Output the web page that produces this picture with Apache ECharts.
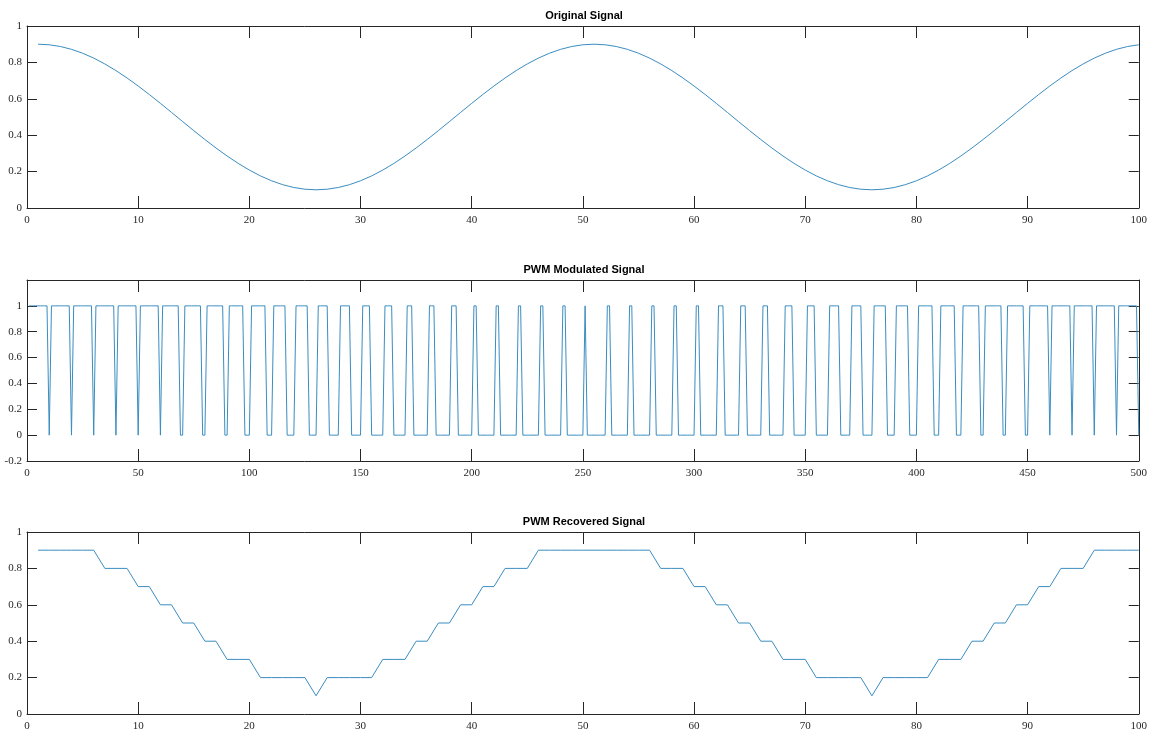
<!DOCTYPE html>
<html><head><meta charset="utf-8">
<script src="https://cdn.jsdelivr.net/npm/echarts@6/dist/echarts.min.js"></script>
<style>html,body{margin:0;padding:0;background:#fff}#chart{width:1150px;height:733px}</style>
</head><body><div id="chart"></div>
<script>
const titles = ['Original Signal', 'PWM Modulated Signal', 'PWM Recovered Signal'];

// Original signal, samples 1..100
const originalSignal = [
  0.9, 0.8968, 0.8874, 0.8719, 0.8505, 0.8236, 0.7916, 0.7550, 0.7143, 0.6703,
  0.6236, 0.5750, 0.5251, 0.4749, 0.4250, 0.3764, 0.3297, 0.2857, 0.2450, 0.2084,
  0.1764, 0.1495, 0.1281, 0.1126, 0.1032, 0.1, 0.1032, 0.1126, 0.1281, 0.1495,
  0.1764, 0.2084, 0.2450, 0.2857, 0.3297, 0.3764, 0.4250, 0.4749, 0.5251, 0.5750,
  0.6236, 0.6703, 0.7143, 0.7550, 0.7916, 0.8236, 0.8505, 0.8719, 0.8874, 0.8968,
  0.9, 0.8968, 0.8874, 0.8719, 0.8505, 0.8236, 0.7916, 0.7550, 0.7143, 0.6703,
  0.6236, 0.5750, 0.5251, 0.4749, 0.4250, 0.3764, 0.3297, 0.2857, 0.2450, 0.2084,
  0.1764, 0.1495, 0.1281, 0.1126, 0.1032, 0.1, 0.1032, 0.1126, 0.1281, 0.1495,
  0.1764, 0.2084, 0.2450, 0.2857, 0.3297, 0.3764, 0.4250, 0.4749, 0.5251, 0.5750,
  0.6236, 0.6703, 0.7143, 0.7550, 0.7916, 0.8236, 0.8505, 0.8719, 0.8874, 0.8968
];

// PWM modulated signal, 50 periods of 10 samples each (samples 1..500)
const pwmPeriods = [
  '1111111110', '1111111110', '1111111110', '1111111110', '1111111110',
  '1111111110', '1111111100', '1111111100', '1111111100', '1111111000',
  '1111111000', '1111110000', '1111110000', '1111100000', '1111100000',
  '1111000000', '1111000000', '1110000000', '1110000000', '1110000000',
  '1100000000', '1100000000', '1100000000', '1100000000', '1100000000',
  '1000000000', '1100000000', '1100000000', '1100000000', '1100000000',
  '1100000000', '1110000000', '1110000000', '1110000000', '1111000000',
  '1111000000', '1111100000', '1111100000', '1111110000', '1111110000',
  '1111111000', '1111111000', '1111111100', '1111111100', '1111111100',
  '1111111110', '1111111110', '1111111110', '1111111110', '1111111110'
];

// Recovered signal, samples 1..100
const recoveredSignal = [
  0.9, 0.9, 0.9, 0.9, 0.9, 0.9, 0.8, 0.8, 0.8, 0.7,
  0.7, 0.6, 0.6, 0.5, 0.5, 0.4, 0.4, 0.3, 0.3, 0.3,
  0.2, 0.2, 0.2, 0.2, 0.2, 0.1, 0.2, 0.2, 0.2, 0.2,
  0.2, 0.3, 0.3, 0.3, 0.4, 0.4, 0.5, 0.5, 0.6, 0.6,
  0.7, 0.7, 0.8, 0.8, 0.8, 0.9, 0.9, 0.9, 0.9, 0.9,
  0.9, 0.9, 0.9, 0.9, 0.9, 0.9, 0.8, 0.8, 0.8, 0.7,
  0.7, 0.6, 0.6, 0.5, 0.5, 0.4, 0.4, 0.3, 0.3, 0.3,
  0.2, 0.2, 0.2, 0.2, 0.2, 0.1, 0.2, 0.2, 0.2, 0.2,
  0.2, 0.3, 0.3, 0.3, 0.4, 0.4, 0.5, 0.5, 0.6, 0.6,
  0.7, 0.7, 0.8, 0.8, 0.8, 0.9, 0.9, 0.9, 0.9, 0.9
];

// Axis limits [min, max, interval]
const xLimits = [[0, 100, 10], [0, 500, 50], [0, 100, 10]];
const yLimits = [[0, 1, 0.2], [-0.2, 1.2, 0.2], [0, 1, 0.2]];
const hideTopYLabel = [false, true, false];

const originalPts = originalSignal.map((v, i) => [i + 1, v]);
const recoveredPts = recoveredSignal.map((v, i) => [i + 1, v]);
const pwmPts = [];
pwmPeriods.forEach((s, p) => {
  for (let j = 0; j < s.length; j++) pwmPts.push([p * 10 + j + 1, Number(s[j])]);
});
const seriesData = [originalPts, pwmPts, recoveredPts];

const AX = '#262626';
const LINE = '#3a8dc0';
const gridTops = [26, 280, 532];
const gridHeights = [182, 181, 182];
const titleTops = [10, 264, 516];

const grids = [], xAxes = [], yAxes = [], series = [], titleOpts = [];
for (let i = 0; i < 3; i++) {
  grids.push({ left: 27, right: 7, top: gridTops[i], height: gridHeights[i], containLabel: false });
  const [xmin, xmax, xint] = xLimits[i];
  const [ymin, ymax, yint] = yLimits[i];
  ['bottom', 'top'].forEach((pos, k) => {
    xAxes.push({
      type: 'value', gridIndex: i, position: pos, min: xmin, max: xmax, interval: xint,
      axisLine: { show: true, onZero: false, lineStyle: { color: AX, width: 1 } },
      axisTick: { show: true, inside: true, length: 12, lineStyle: { color: AX, width: 1 } },
      axisLabel: { show: k === 0, fontFamily: 'Liberation Serif', fontSize: 11, color: AX, margin: 7 },
      splitLine: { show: false }
    });
  });
  ['left', 'right'].forEach((pos, k) => {
    yAxes.push({
      type: 'value', gridIndex: i, position: pos, min: ymin, max: ymax, interval: yint,
      axisLine: { show: true, onZero: false, lineStyle: { color: AX, width: 1 } },
      axisTick: { show: true, inside: true, length: 10, lineStyle: { color: AX, width: 1 } },
      axisLabel: { show: k === 0, fontFamily: 'Liberation Serif', fontSize: 11, color: AX, margin: 5,
                   showMaxLabel: !hideTopYLabel[i] },
      splitLine: { show: false }
    });
  });
  series.push({
    type: 'line', xAxisIndex: i * 2, yAxisIndex: i * 2, data: seriesData[i],
    showSymbol: false, silent: true, lineStyle: { color: LINE, width: 1 }
  });
  titleOpts.push({
    text: titles[i], left: 584, top: titleTops[i], textAlign: 'center', padding: 0,
    textStyle: { fontFamily: 'Liberation Sans', fontWeight: 'bold', fontSize: 11, color: '#000' }
  });
}

const chart = echarts.init(document.getElementById('chart'), null, { renderer: 'canvas' });
chart.setOption({
  animation: false,
  backgroundColor: '#fff',
  title: titleOpts,
  grid: grids,
  xAxis: xAxes,
  yAxis: yAxes,
  series: series
});
</script>
</body></html>
